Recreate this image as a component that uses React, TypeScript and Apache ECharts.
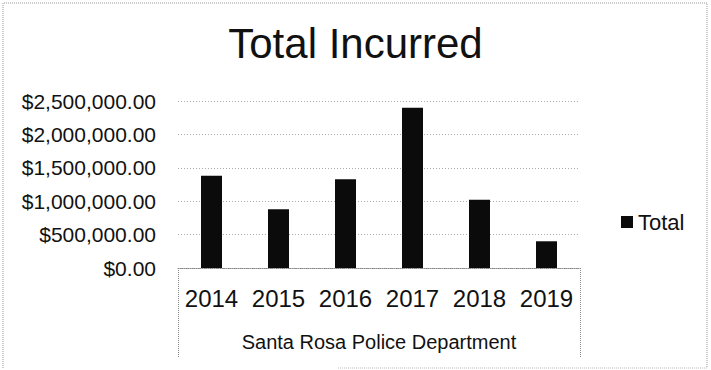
import React, { useEffect, useRef } from "react";
import * as echarts from "echarts";

const categories = ["2014", "2015", "2016", "2017", "2018", "2019"];
const totals = [1380000, 880000, 1330000, 2400000, 1020000, 400000];
const groupLabel = ["Santa Rosa Police Department"];
const seriesName = "Total";
const titleText = "Total Incurred";

const FONT = "'Liberation Sans', Arial, sans-serif";

function fmtMoney(v: number): string {
  const s = Math.round(v).toString().replace(/\B(?=(\d{3})+(?!\d))/g, ",");
  return "$" + s + ".00";
}

export default function App() {
  const ref = useRef<HTMLDivElement>(null);
  useEffect(() => {
    if (!ref.current) return;
    const chart = echarts.init(ref.current, undefined, { renderer: "svg" });
    chart.setOption({
      animation: false,
      backgroundColor: "#ffffff",
      textStyle: { fontFamily: FONT },
      title: {
        text: titleText,
        left: "center",
        top: 17,
        textStyle: { fontSize: 42, fontWeight: "normal", color: "#111", fontFamily: FONT },
      },
      legend: {
        data: [seriesName],
        left: 616,
        top: 206,
        itemWidth: 12,
        itemHeight: 12,
        itemGap: 6,
        icon: "rect",
        textStyle: { fontSize: 22, color: "#111", fontFamily: FONT },
      },
      grid: { left: 178, right: 131, top: 101, bottom: 102, containLabel: false },
      xAxis: [
        {
          type: "category",
          data: categories,
          position: "bottom",
          axisLine: { show: true, lineStyle: { color: "#888", width: 1, type: [1, 1] } },
          axisTick: { show: false },
          axisLabel: { interval: 0, fontSize: 24, color: "#111", margin: 18, fontFamily: FONT },
        },
        {
          type: "category",
          data: groupLabel,
          position: "bottom",
          boundaryGap: true,
          axisLine: { show: false },
          axisTick: { show: true, length: 90, lineStyle: { color: "#888", width: 1, type: [1, 1] } },
          axisLabel: { interval: 0, fontSize: 20, color: "#111", margin: 64, fontFamily: FONT },
        },
      ],
      yAxis: {
        type: "value",
        min: 0,
        max: 2500000,
        interval: 500000,
        axisLine: { show: false },
        axisTick: { show: false },
        axisLabel: {
          fontSize: 21,
          color: "#111",
          margin: 22,
          fontFamily: FONT,
          formatter: (v: number) => fmtMoney(v),
        },
        splitLine: { show: true, lineStyle: { color: "#aaa", width: 1, type: [1, 2] } },
      },
      series: [
        {
          name: seriesName,
          type: "bar",
          xAxisIndex: 0,
          data: totals,
          barWidth: 21,
          itemStyle: { color: "#0b0b0b" },
        },
      ],
      graphic: [
        {
          type: "polyline",
          shape: { points: [[3, 368], [3, 3], [707, 3], [707, 368]] },
          style: { stroke: "#999", lineWidth: 1, lineDash: [1, 1], fill: null },
          silent: true,
        },
        {
          type: "line",
          shape: { x1: 338, y1: 368, x2: 707, y2: 368 },
          style: { stroke: "#bbb", lineWidth: 1, lineDash: [1, 1] },
          silent: true,
        },
      ],
    });
    return () => chart.dispose();
  }, []);
  return <div ref={ref} style={{ width: 711, height: 370, position: "absolute", left: 0, top: 0 }} />;
}
